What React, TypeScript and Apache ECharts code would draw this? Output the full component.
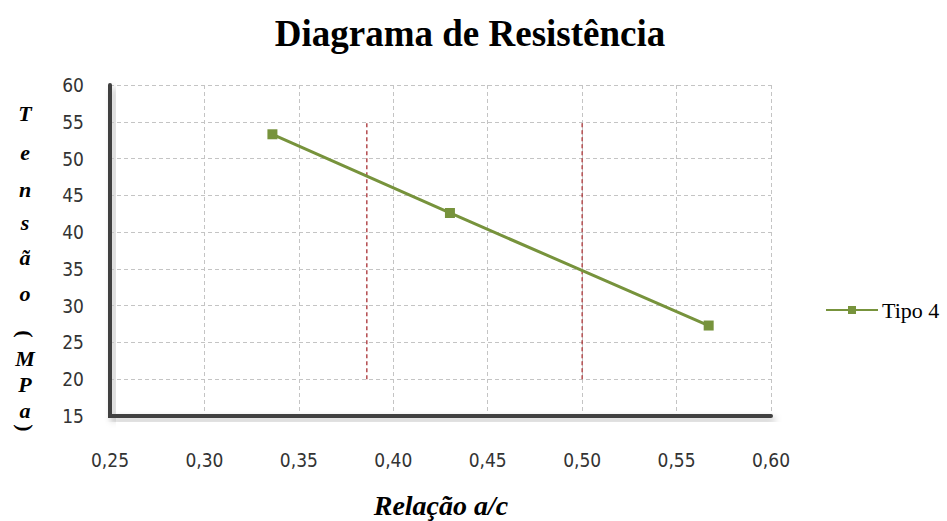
import React, { useEffect, useRef } from "react";
import * as echarts from "echarts";

const seriesName = "Tipo 4";
const xValues = [0.336, 0.43, 0.567];
const yValues = [53.3, 42.6, 27.3];
const refLinesX = [0.386, 0.5];
const refLineYRange = [20, 55];
const titleText = "Diagrama de Resistência";
const xAxisName = "Relação a/c";
const yAxisChars = ["T", "e", "n", "s", "ã", "o", "(", "M", "P", "a", ")"];
const yAxisCharPos = [113, 152, 189, 222, 257, 293, 334, 358, 384, 410, 428];

export default function App() {
  const ref = useRef<HTMLDivElement>(null);
  useEffect(() => {
    document.body.style.margin = "0";
    const chart = echarts.init(ref.current!, null, { renderer: "svg" });
    const serif = "'Liberation Serif', 'DejaVu Serif', serif";
    const sans = "'DejaVu Sans Condensed', 'DejaVu Sans', sans-serif";
    const gl = 110, gt = 85, gw = 661, gh = 331;
    const graphics: any[] = yAxisChars.map((ch, i) => {
      const rot = ch === "(" || ch === ")";
      return {
        type: "group",
        x: 25,
        y: yAxisCharPos[i],
        rotation: rot ? -Math.PI / 2 : 0,
        children: [
          {
            type: "text",
            x: 0,
            y: 0,
            style: {
              text: ch,
              fontFamily: serif,
              fontStyle: rot ? "normal" : "italic",
              fontWeight: "bold",
              fontSize: 22,
              fill: "#000",
              align: "center",
              verticalAlign: "middle",
            },
          },
        ],
      };
    });
    graphics.push({
      type: "text",
      x: 441,
      y: 505,
      style: {
        text: xAxisName,
        fontFamily: serif,
        fontStyle: "italic",
        fontWeight: "bold",
        fontSize: 28,
        fill: "#000",
        align: "center",
        verticalAlign: "middle",
      },
    });
    // soft shadows behind the heavy axis lines
    graphics.push({
      type: "rect",
      z: -1,
      shape: { x: gl - 2, y: gt, width: 4, height: gh + 2 },
      style: { fill: "#404040", shadowColor: "rgba(0,0,0,0.3)", shadowBlur: 7, shadowOffsetX: 4, shadowOffsetY: 3 },
    });
    graphics.push({
      type: "rect",
      z: -1,
      shape: { x: gl - 2, y: gt + gh - 2, width: gw + 2, height: 4 },
      style: { fill: "#404040", shadowColor: "rgba(0,0,0,0.3)", shadowBlur: 7, shadowOffsetX: 4, shadowOffsetY: 4 },
    });
    const refSeries = refLinesX.map((x) => ({
      type: "line",
      data: [
        [x, refLineYRange[0]],
        [x, refLineYRange[1]],
      ],
      symbol: "none",
      silent: true,
      lineStyle: { color: "#A01E22", width: 1.2, type: [4, 3] },
      z: 1,
    }));
    const axisLine = { show: true, onZero: false, lineStyle: { color: "#404040", width: 4 } };
    chart.setOption({
      animation: false,
      title: {
        text: titleText,
        left: 465,
        top: 10,
        textAlign: "center",
        textStyle: { fontFamily: serif, fontWeight: "bold", fontSize: 37, color: "#000" },
      },
      graphic: graphics,
      legend: {
        data: [seriesName],
        left: 820,
        top: 294,
        itemWidth: 52,
        itemHeight: 10,
        itemGap: 0,
        textStyle: { fontFamily: serif, fontSize: 22, color: "#000", padding: [0, 0, 0, -1] },
      },
      grid: { left: gl, top: gt, width: gw, height: gh },
      xAxis: {
        type: "value",
        min: 0.25,
        max: 0.6,
        interval: 0.05,
        axisLine,
        axisTick: { show: false },
        axisLabel: {
          margin: 34,
          fontFamily: sans,
          fontSize: 19,
          color: "#333",
          formatter: (v: number) => v.toFixed(2).replace(".", ","),
        },
        splitLine: { show: true, lineStyle: { color: "#c4c4c4", type: [4, 3], width: 1 } },
      },
      yAxis: {
        type: "value",
        min: 15,
        max: 60,
        interval: 5,
        axisLine,
        axisTick: { show: false },
        axisLabel: { margin: 26, fontFamily: sans, fontSize: 19, color: "#333" },
        splitLine: { show: true, lineStyle: { color: "#c4c4c4", type: [4, 3], width: 1 } },
      },
      series: [
        ...refSeries,
        {
          name: seriesName,
          type: "line",
          data: xValues.map((x, i) => [x, yValues[i]]),
          symbol: "rect",
          symbolSize: 10,
          itemStyle: { color: "#77933C" },
          lineStyle: { color: "#77933C", width: 3 },
          z: 3,
        },
      ],
    });
    return () => chart.dispose();
  }, []);
  return <div ref={ref} style={{ width: 947, height: 521 }} />;
}
